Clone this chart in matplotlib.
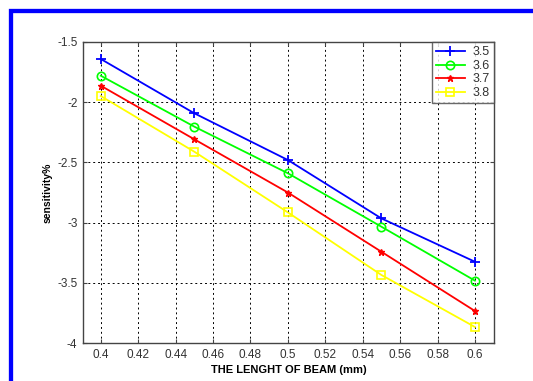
import matplotlib
matplotlib.use("Agg")
import matplotlib.pyplot as plt
from matplotlib.patches import Rectangle

plt.rcParams['font.family'] = ['Liberation Sans', 'DejaVu Sans']

x = [0.4, 0.45, 0.5, 0.55, 0.6]
s35 = [-1.641, -2.092, -2.48, -2.965, -3.325]
s36 = [-1.78, -2.203, -2.59, -3.034, -3.482]
s37 = [-1.863, -2.308, -2.75, -3.242, -3.734]
s38 = [-1.949, -2.411, -2.915, -3.435, -3.867]
labels = ['3.5', '3.6', '3.7', '3.8']
xticks = [0.4, 0.42, 0.44, 0.46, 0.48, 0.5, 0.52, 0.54, 0.56, 0.58, 0.6]
xticklabels = ['0.4', '0.42', '0.44', '0.46', '0.48', '0.5', '0.52', '0.54', '0.56', '0.58', '0.6']
yticks = [-4, -3.5, -3, -2.5, -2, -1.5]
yticklabels = ['-4', '-3.5', '-3', '-2.5', '-2', '-1.5']

W, H = 533, 381
fig = plt.figure(figsize=(W / 100, H / 100), dpi=100)
fig.patch.set_facecolor('white')

# blue frame (left and top visible)
fig.patches.append(Rectangle((11 / W, -0.1), 1.2, (H - 11) / H + 0.1,
                             transform=fig.transFigure, fill=False,
                             edgecolor='#0000ff', linewidth=3.1))

ax = fig.add_axes([83 / W, 1 - 343 / H, (494 - 83) / W, (343 - 42) / H])

ax.plot(x, s35, color='#0000ff', marker='+', markersize=7.5, markeredgewidth=1.3, lw=1.3, label=labels[0])
ax.plot(x, s36, color='#00ff00', marker='o', markersize=6, markerfacecolor='none', markeredgewidth=1.2, lw=1.3, label=labels[1])
ax.plot(x, s37, color='#ff0000', marker='*', markersize=4.5, lw=1.3, label=labels[2])
ax.plot(x, s38, color='#ffff00', marker='s', markersize=6, markerfacecolor='none', markeredgewidth=1.2, lw=1.3, label=labels[3])

ax.set_xlim(0.3905, 0.6102)
ax.set_ylim(-4, -1.5)
ax.set_xticks(xticks)
ax.set_xticklabels(xticklabels)
ax.set_yticks(yticks)
ax.set_yticklabels(yticklabels)
ax.tick_params(direction='in', top=True, right=True, labelsize=8.5, labelcolor='#333333',
               length=3, color='#444444', pad=4)
for sp in ax.spines.values():
    sp.set_color('#444444')
    sp.set_linewidth(1.0)
ax.grid(True, color='black', linestyle=(0, (2, 3)), linewidth=0.7)

ax.set_xlabel('THE LENGHT OF BEAM (mm)', fontsize=8, fontweight='bold', labelpad=3)
ax.set_ylabel('sensitivity%', fontsize=7.5, fontweight='bold', labelpad=3)

leg = ax.legend(loc='upper right', fontsize=9, frameon=True, fancybox=False,
                edgecolor='#444444', borderaxespad=0, handlelength=2.3,
                labelspacing=0.12, borderpad=0.35, handletextpad=0.6)
leg.get_frame().set_linewidth(1.0)
for t in leg.get_texts():
    t.set_color('#333333')

fig.savefig('out.png', dpi=100)
